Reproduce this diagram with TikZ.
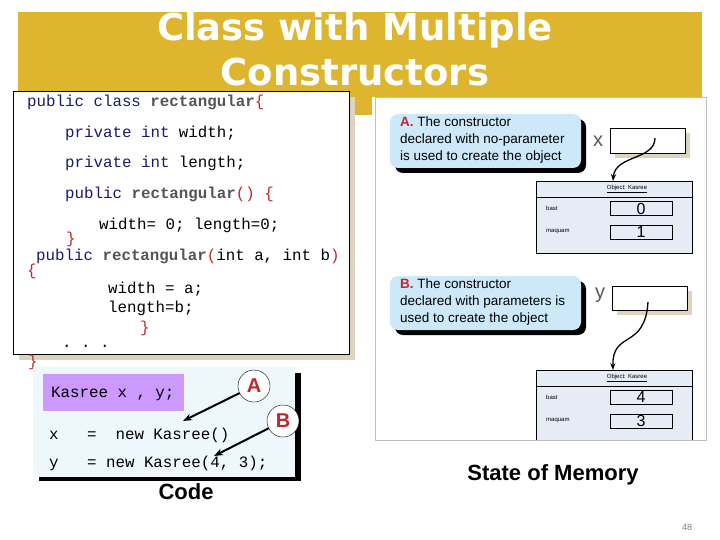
\documentclass[tikz,border=0pt]{standalone}
\usepackage{fontspec}
\setmainfont{Liberation Sans}
\setmonofont{Liberation Mono}
\newfontfamily\titlefont{DejaVu Sans}
\usetikzlibrary{arrows.meta}
\definecolor{gold}{HTML}{DDB52F}
\definecolor{kw}{HTML}{1A1A6E}
\definecolor{idc}{HTML}{555555}
\definecolor{brc}{HTML}{C0272D}
\definecolor{lblue}{HTML}{EEF8FC}
\definecolor{callout}{HTML}{CDE9F9}
\definecolor{objbg}{HTML}{E6ECF6}
\definecolor{beige}{HTML}{DDD3BE}
\definecolor{purp}{HTML}{CC99FF}
\newcommand{\K}[1]{\textcolor{kw}{#1}}
\newcommand{\I}[1]{\textcolor{idc}{\bfseries #1}}
\newcommand{\R}[1]{\textcolor{brc}{#1}}
\begin{document}
\begin{tikzpicture}[x=1pt,y=-1pt,
 code/.style={anchor=west,inner sep=0,font=\ttfamily\fontsize{15.8}{15.8}\selectfont},
 callt/.style={anchor=north west,inner sep=0,align=left,font=\fontsize{13.5}{17}\selectfont},
 small/.style={inner sep=0,font=\fontsize{6}{6}\selectfont},
 val/.style={draw=black,fill=objbg,minimum width=62pt,minimum height=14pt,inner sep=0,font=\fontsize{16}{16}\selectfont},
 arr/.style={-{Stealth[length=9pt]},line width=2pt},
 big/.style={font=\bfseries\fontsize{22}{22}\selectfont,inner sep=0}]
\useasboundingbox (0,0) rectangle (720,540);
\fill[white] (0,0) rectangle (720,540);
% banner
\fill[gold] (18,12) rectangle (702,115);
\node[text=white,align=center,font=\titlefont\bfseries\fontsize{37}{45}\selectfont] (title) at (355,49) {Class with Multiple\\Constructors};
% right panel
\fill[white] (372,97) rectangle (706,440);
\draw[gray!50] (375,97) rectangle (706,440);
% code box
\fill[beige] (19,97) rectangle (355,360);
\node[draw=black,fill=white,minimum width=336pt,minimum height=263pt,anchor=north west,inner sep=0] (cbox) at (13,91) {};
\node[code] (l1) at (27,102) {\K{public class} \I{rectangular}\R{\{}};
\node[code] (l2) at (65,133) {\K{private int} width;};
\node[code] (l3) at (65,163) {\K{private int} length;};
\node[code] (l4) at (65,194) {\K{public} \I{rectangular}\R{() \{}};
\node[code] (l5) at (99,225) {width= 0; length=0;};
\node[code] (l6) at (66,239) {\R{\}}};
\node[code] (l7) at (36,256) {\K{public} \I{rectangular}\R{(}int a, int b\R{)}};
\node[code] (l8) at (27,271) {\R{\{}};
\node[code] (l9) at (108,289) {width = a;};
\node[code] (l10) at (108,308) {length=b;};
\node[code] (l11) at (140,328) {\R{\}}};
\node[code] (l12) at (62,346) {.\ .\ .};
\node[code] (l13) at (28,362) {\R{\}}};
% lower code
\fill[black] (39,373) rectangle (301,481);
\fill[lblue] (33,367) rectangle (295,477);
\fill[purp] (43,374) rectangle (184,411);
\node[code] (k1) at (51,394) {Kasree x , y;};
\node[code] (k2) at (49,435) {x\ \ \ =\ \ new Kasree()};
\node[code] (k3) at (49,463) {y\ \ \ = new Kasree(4, 3);};
\node[draw=black,fill=white,circle,minimum size=32pt,inner sep=0,text=brc,font=\bfseries\fontsize{20}{20}\selectfont] (cA) at (254,386) {A};
\node[draw=black,fill=white,circle,minimum size=32pt,inner sep=0,text=brc,font=\bfseries\fontsize{20}{20}\selectfont] (cB) at (283,421) {B};
\coordinate (tA) at (183,421);
\coordinate (tB) at (214,456);
\draw[arr] (cA) -- (tA);
\draw[arr] (cB) -- (tB);
\node[big] (codel) at (186,492) {Code};
% callouts
\fill[black,rounded corners=8pt] (395,119) rectangle (586,173);
\fill[callout,rounded corners=8pt] (390,114) rectangle (581,168);
\node[callt] (ta) at (400,117) {\textcolor{brc}{\bfseries A.} The constructor\\declared with no-parameter\\is used to create the object};
\fill[black,rounded corners=8pt] (395,281) rectangle (586,335);
\fill[callout,rounded corners=8pt] (390,276) rectangle (581,330);
\node[callt] (tb) at (400,279) {\textcolor{brc}{\bfseries B.} The constructor\\declared with parameters is\\used to create the object};
% variable boxes
\node[font=\fontsize{20}{20}\selectfont\rmfamily,text=gray!70!black] (vx) at (598,141) {x};
\fill[beige] (615,133) rectangle (690,158);
\node[draw=black,fill=white,minimum width=75pt,minimum height=25pt,anchor=north west,inner sep=0] (bx) at (610,128) {};
\node[font=\fontsize{20}{20}\selectfont\rmfamily,text=gray!70!black] (vy) at (600,295) {y};
\fill[beige] (617,291) rectangle (692,315);
\node[draw=black,fill=white,minimum width=75pt,minimum height=24pt,anchor=north west,inner sep=0] (by) at (612,286) {};
% objects
\node[draw=black,fill=objbg,minimum width=156pt,minimum height=72pt,anchor=north west,inner sep=0] (o1) at (536,181) {};
\draw (536,197) -- (692,197);
\node[small] (h1) at (627,189) {\underline{Object: Kasree}};
\node[small,anchor=west] (b1) at (546,208) {bast};
\node[small,anchor=west] (m1) at (546,232) {maquam};
\node[val] (v01) at (641,208.5) {0};
\node[val] (v11) at (641,232) {1};
\node[draw=black,fill=objbg,minimum width=156pt,minimum height=70pt,anchor=north west,inner sep=0] (o2) at (536,370) {};
\draw (536,386) -- (692,386);
\node[small] (h2) at (627,378) {\underline{Object: Kasree}};
\node[small,anchor=west] (b2) at (546,397) {bast};
\node[small,anchor=west] (m2) at (546,421) {maquam};
\node[val] (v42) at (641,397) {4};
\node[val] (v32) at (641,421) {3};
\fill[white] (530,440.5) rectangle (700,460);
\draw[gray!50] (375,440) -- (706,440);
% pointer arrows
\coordinate (px) at (655,138);
\coordinate (py) at (648,302);
\coordinate (ox) at (613,181);
\coordinate (oy) at (613,370);
\draw[-{Stealth[length=7pt]},line width=1.3pt] (px) .. controls (655,160) and (615,155) .. (ox);
\draw[-{Stealth[length=7pt]},line width=1.3pt] (py) .. controls (645,350) and (612,330) .. (oy);
\node[big] (mem) at (553,475) {State of Memory};
\node[font=\fontsize{9}{9}\selectfont,text=gray] (pg) at (687,527) {48};
\end{tikzpicture}
\end{document}
